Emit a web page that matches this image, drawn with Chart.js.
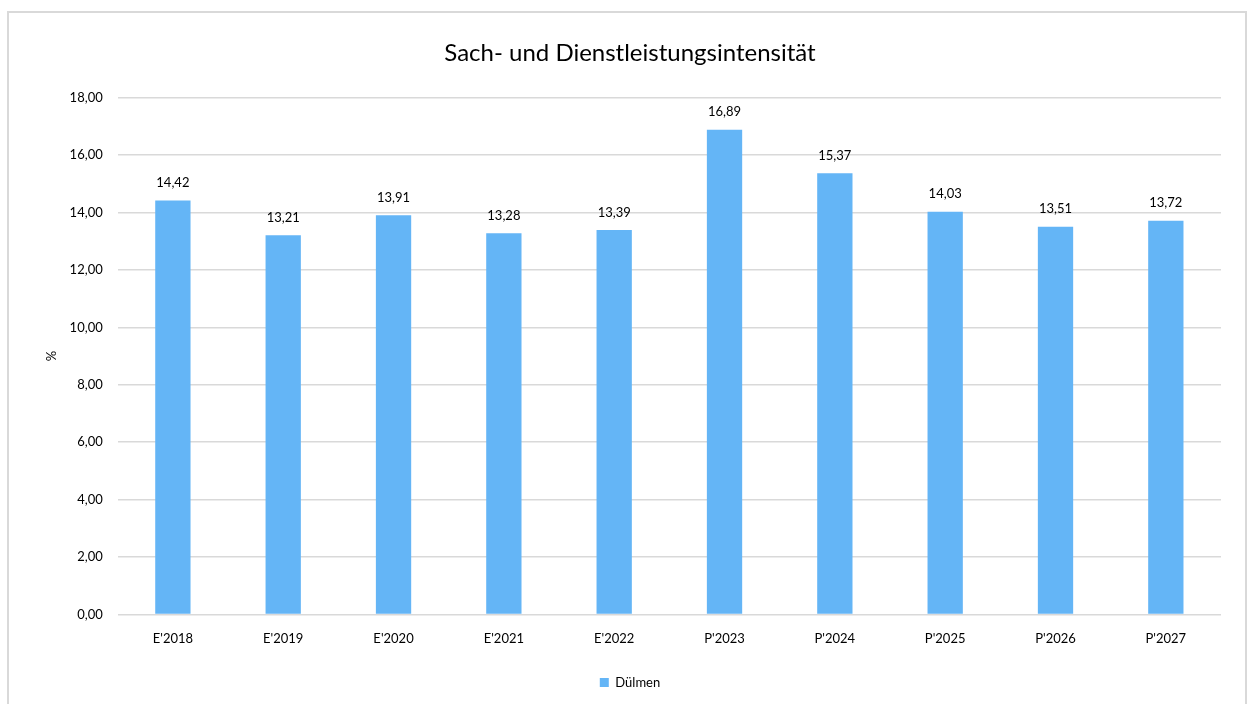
<!DOCTYPE html>
<html>
<head>
<meta charset="utf-8">
<script src="https://cdn.jsdelivr.net/npm/chart.js@4"></script>
<style>
  body { margin: 0; background: #fff; }
  #wrap { position: absolute; left: 0; top: 0; width: 1250px; height: 704px; }
</style>
</head>
<body>
<div id="wrap"><canvas id="chart" width="1250" height="704"></canvas></div>
<script>
const categories = ["E'2018", "E'2019", "E'2020", "E'2021", "E'2022", "P'2023", "P'2024", "P'2025", "P'2026", "P'2027"];
const duelmen = [14.42, 13.21, 13.91, 13.28, 13.39, 16.89, 15.37, 14.03, 13.51, 13.72];
const yTicks = [0, 2, 4, 6, 8, 10, 12, 14, 16, 18];

const barColor = "#64b5f6";
const fontFamily = "Lato, 'Open Sans', sans-serif";

function fmt(v) {
    return v.toFixed(2).replace(".", ",");
}

// frame around the chart
const framePlugin = {
    id: "frame",
    beforeDraw(chart) {
        const ctx = chart.ctx;
        ctx.save();
        ctx.fillStyle = "#fff";
        ctx.fillRect(0, 0, chart.width, chart.height);
        ctx.strokeStyle = "#d9d9d9";
        ctx.lineWidth = 2;
        ctx.strokeRect(8, 12, 1238, 700);
        ctx.restore();
    }
};

// value labels above bars
const valueLabels = {
    id: "valueLabels",
    afterDatasetsDraw(chart) {
        const ctx = chart.ctx;
        ctx.save();
        ctx.font = "13px " + fontFamily;
        ctx.fillStyle = "#000";
        ctx.textAlign = "center";
        ctx.textBaseline = "bottom";
        chart.getDatasetMeta(0).data.forEach((bar, i) => {
            ctx.fillText(fmt(duelmen[i]), bar.x, bar.y - 11);
        });
        ctx.restore();
    }
};

new Chart(document.getElementById("chart"), {
    type: "bar",
    data: {
        labels: categories,
        datasets: [{
            label: "Dülmen",
            data: duelmen,
            backgroundColor: barColor,
            barPercentage: 0.32,
            categoryPercentage: 1
        }]
    },
    options: {
        responsive: false,
        animation: false,
        layout: { padding: { left: 39, right: 29, top: 31, bottom: 5 } },
        plugins: {
            title: {
                display: true,
                text: "Sach- und Dienstleistungsintensität",
                color: "#000",
                font: { family: fontFamily, size: 24, weight: "normal" },
                padding: { top: 8, bottom: 30 }
            },
            legend: {
                position: "bottom",
                labels: {
                    color: "#000",
                    font: { family: fontFamily, size: 13 },
                    boxWidth: 9,
                    boxHeight: 9,
                    padding: 20
                }
            },
            tooltip: { enabled: false }
        },
        scales: {
            x: {
                grid: { display: false },
                border: { display: false },
                ticks: { color: "#000", font: { family: fontFamily, size: 13 }, padding: 9 }
            },
            y: {
                min: 0,
                max: 18,
                afterBuildTicks(scale) {
                    scale.ticks = yTicks.map(v => ({ value: v }));
                },
                grid: { color: "#d9d9d9", lineWidth: 1.5, drawTicks: false },
                border: { display: false },
                ticks: {
                    color: "#000",
                    font: { family: fontFamily, size: 13 },
                    padding: 15,
                    callback: v => fmt(v)
                },
                title: {
                    display: true,
                    text: "%",
                    color: "#000",
                    font: { family: fontFamily, size: 13 },
                    padding: { top: 5, bottom: -5 }
                }
            }
        }
    },
    plugins: [framePlugin, valueLabels]
});
</script>
</body>
</html>
